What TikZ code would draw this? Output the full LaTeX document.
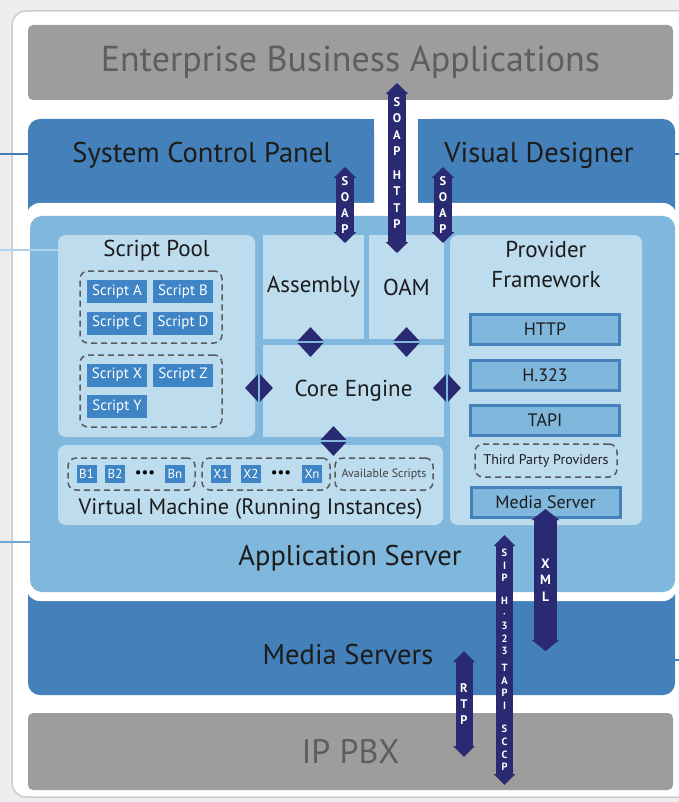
\documentclass[tikz,border=0pt]{standalone}
\usepackage{fontspec}
\setmainfont{PT Sans}
\usetikzlibrary{positioning,calc,shapes.geometric,arrows.meta}

\definecolor{ebagray}{HTML}{9E9C9C}
\definecolor{ebatext}{HTML}{5E5E5E}
\definecolor{panelblue}{HTML}{4480B9}
\definecolor{serverblue}{HTML}{80B8DD}
\definecolor{innerblue}{HTML}{BDDCEE}
\definecolor{scriptblue}{HTML}{3F85C6}
\definecolor{bandnavy}{HTML}{2A2A72}
\definecolor{inktext}{HTML}{1C1C1C}

\begin{document}
\begin{tikzpicture}[x=1pt,y=-1pt,
    every node/.style={inner sep=0pt, text=inktext},
    boxsize/.style 2 args={minimum width=#1pt, minimum height=#2pt},
    graybox/.style={fill=ebagray, rounded corners=5pt, text=ebatext, font=\fontsize{36}{40}\selectfont},
    panel/.style={fill=panelblue, rounded corners=12pt},
    paneltext/.style={font=\fontsize{28.5}{32}\selectfont},
    block/.style={fill=innerblue, font=\fontsize{23}{30}\selectfont},
    group/.style={draw=black!65, dash pattern=on 6pt off 4pt, line width=1.5pt, rounded corners=8pt},
    scriptbox/.style={fill=scriptblue, text=white, boxsize={60}{23}, font=\fontsize{15}{16}\selectfont},
    instbox/.style={fill=scriptblue, text=white, boxsize={20}{18}, font=\fontsize{13}{14}\selectfont},
    protobox/.style={fill=serverblue, draw=panelblue, line width=3pt, boxsize={149}{30}, font=\fontsize{18}{20}\selectfont},
    diam/.style={diamond, fill=bandnavy, boxsize={28}{30}},
    seam/.style={serverblue, line width=2pt},
    link/.style={line width=2pt},
    band/.style={bandnavy, line width=#1, {Triangle[length=11pt,width=4pt 1]}-{Triangle[length=11pt,width=4pt 1]}},
    letters/.style={text=white, align=center, font=\bfseries\fontsize{12.5}{16.5}\selectfont}]

    \useasboundingbox (0,0) rectangle (679,802);
    \fill[black!7] (0,0) rectangle (679,802);
    \fill[white, draw=black!20, line width=1.5pt, rounded corners=14pt] (12,11) rectangle (700,797);

    % top layer
    \node[graybox, boxsize={645}{75}] (eba) at (350.5,62.5) {Enterprise Business Applications};

    \node[panel, boxsize={346}{111}] (scp) at (201,174.5) {};
    \fill[panelblue] (scp.north east) rectangle ++(-14,14);
    \node[paneltext] (scptext) at (202,155) {System Control Panel};
    \node[panel, boxsize={257}{111}] (vd) at (546.5,174.5) {};
    \fill[panelblue] (vd.north west) rectangle ++(14,14);
    \node[paneltext] (vdtext) at (539,155) {Visual Designer};

    \node[panel, boxsize={647}{115}] (ms) at (351.5,637.5) {};
    \node[paneltext] (mstext) at (348,655) {Media Servers};

    % application server sits in a white frame
    \fill[white, rounded corners=14pt] (26,203) rectangle (677,601);
    \node[fill=serverblue, rounded corners=12pt, boxsize={645}{376}] (app) at (352.5,404) {};
    \node[paneltext] (apptext) at (350,558) {Application Server};

    \node[graybox, font=\fontsize{34}{40}\selectfont, boxsize={645}{77}] (pbx) at (350.5,751.5) {IP PBX};

    % blocks inside the server
    \node[block, rounded corners=8pt, boxsize={197}{202}] (pool) at (156.5,336) {};
    \node[block, boxsize={101}{104}] (asm) at (313.5,287) {Assembly};
    \node[block, boxsize={75}{104}] (oam) at (406.5,287) {OAM};
    \node[block, boxsize={181}{92}] (core) at (353.5,391) {Core Engine};
    \node[block, rounded corners=8pt, boxsize={192}{290}] (prov) at (546,380) {};
    \node[block, rounded corners=8pt, boxsize={385}{80}] (vm) at (250.5,485) {};

    \node[block, fill=none, below=5pt of pool.north] (pooltitle) {Script Pool};
    \node[block, fill=none, align=center, below=6pt of prov.north] (provtitle) {Provider\\Framework};
    \node[block, fill=none, font=\fontsize{22.3}{24}\selectfont, above=6pt of vm.south] (vmtitle) {Virtual Machine (Running Instances)};

    % script pool
    \node[group, boxsize={142}{72}] (grp1) at (151,307) {};
    \node[group, boxsize={142}{72}] (grp2) at (151,391) {};
    \foreach \n/\x/\y in {A/117/291.5,B/183/291.5,C/117/323,D/183/323,X/117/375,Z/183/375,Y/117/406.5}
        \node[scriptbox] (script\n) at (\x,\y) {Script \n};

    % running instances
    \node[group, boxsize={127}{32}] (grpb) at (131.5,474) {};
    \node[group, boxsize={128}{32}] (grpx) at (266,474) {};
    \node[group, boxsize={98}{32}, text=black!75, font=\fontsize{12}{12}\selectfont] (grpav) at (384,474) {Available Scripts};
    \foreach \n/\x in {B1/86.5,B2/115,Bn/175,X1/221,X2/251,Xn/312}
        \node[instbox] (inst\n) at (\x,474) {\n};
    \node[text=black, font=\fontsize{15}{15}\selectfont] (bdots) at (145,474) {\textbullet\textbullet\textbullet};
    \node[text=black, font=\fontsize{15}{15}\selectfont] (xdots) at (281,474) {\textbullet\textbullet\textbullet};

    % providers
    \foreach \name/\txt/\y in {http/HTTP/329.5,h323/H.323/375,tapi/TAPI/420.5}
        \node[protobox] (\name) at (545,\y) {\txt};
    \node[group, boxsize={142}{33}, font=\fontsize{14}{16}\selectfont] (third) at (546,460.5) {Third Party Providers};
    \node[protobox] (mediasrv) at (545.5,502) {Media Server};

    % joints between blocks
    \node[diam] (d-asm) at ($(asm.south)!0.5!(asm.south|-core.north)+(-3,0)$) {};
    \draw[seam] (d-asm.west) -- (d-asm.east);
    \node[diam] (d-oam) at ($(oam.south)!0.5!(oam.south|-core.north)$) {};
    \draw[seam] (d-oam.west) -- (d-oam.east);
    \node[diam] (d-pool) at ($(pool.east|-core.west)!0.5!(core.west)+(0,-3)$) {};
    \draw[seam] (d-pool.north) -- (d-pool.south);
    \node[diam] (d-prov) at ($(core.east)!0.5!(prov.west|-core.east)+(0,-3)$) {};
    \draw[seam] (d-prov.north) -- (d-prov.south);
    \node[diam] (d-vm) at ($(core.south)!0.5!(core.south|-vm.north)+(-20,0)$) {};
    \draw[seam] (d-vm.west) -- (d-vm.east);

    % lines leaving the picture
    \coordinate (scp-link) at (0,154);
    \draw[link, panelblue] (scp-link) -- (scp-link -| scp.west);
    \coordinate (pool-link) at (0,250);
    \draw[link, innerblue!75!serverblue] (pool-link) -- (pool-link -| pool.west);
    \coordinate (app-link) at (0,542);
    \draw[link, serverblue!70!panelblue] (app-link) -- (app-link -| app.west);
    \coordinate (vd-link) at (679,154);
    \draw[link, panelblue] (vd-link) -- (vd-link -| vd.east);
    \coordinate (ms-link) at (679,660);
    \draw[link, panelblue] (ms-link) -- (ms-link -| ms.east);

    % protocol bands
    \coordinate (soaphttp-top) at (397,83);
    \coordinate (soaphttp-bot) at (397,253);
    \draw[band=18pt] (soaphttp-top) -- (soaphttp-bot) node[letters, pos=0.47] (soaphttp) {S\\O\\A\\P\\[7pt]H\\T\\T\\P};
    \coordinate (soapl-top) at (345,167);
    \coordinate (soapl-bot) at (345,243);
    \draw[band=18pt] (soapl-top) -- (soapl-bot) node[letters, font=\bfseries\fontsize{12.5}{15.7}\selectfont, pos=0.5] (soapl) {S\\O\\A\\P};
    \coordinate (soapr-top) at (443,167);
    \coordinate (soapr-bot) at (443,243);
    \draw[band=18pt] (soapr-top) -- (soapr-bot) node[letters, font=\bfseries\fontsize{12.5}{15.7}\selectfont, pos=0.5] (soapr) {S\\O\\A\\P};
    \coordinate (xml-top) at (545.5,509);
    \coordinate (xml-bot) at (545.5,651);
    \draw[band=23pt] (xml-top) -- (xml-bot) node[letters, font=\bfseries\fontsize{13.5}{16.5}\selectfont, pos=0.5] (xml) {X\\M\\L};
    \coordinate (sip-top) at (504.5,535);
    \coordinate (sip-bot) at (504.5,785);
    \draw[band=17pt] (sip-top) -- (sip-bot) node[letters, font=\bfseries\fontsize{10.5}{12.6}\selectfont, pos=0.5] (sip) {S\\I\\P\\[10pt]H\\·\\3\\2\\3\\[4pt]T\\A\\P\\I\\[11pt]S\\C\\C\\P};
    \coordinate (rtp-top) at (464,651);
    \coordinate (rtp-bot) at (464,757);
    \draw[band=17pt] (rtp-top) -- (rtp-bot) node[letters, font=\bfseries\fontsize{12.5}{16}\selectfont, pos=0.5] (rtp) {R\\T\\P};
\end{tikzpicture}
\end{document}
